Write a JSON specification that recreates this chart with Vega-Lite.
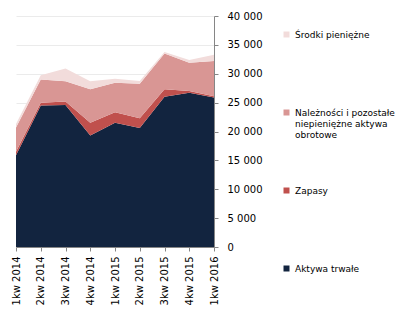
{
  "$schema": "https://vega.github.io/schema/vega-lite/v6.json",
  "width": 198,
  "height": 231,
  "padding": {"left": 16, "top": 16, "right": 184, "bottom": 83},
  "autosize": {"type": "none"},
  "background": "white",
  "config": {
    "view": {"stroke": null},
    "font": "DejaVu Sans"
  },
  "data": {
    "values": [
      {"q": "1kw 2014", "s": "Aktywa trwałe", "o": 1, "v": 15900},
      {"q": "2kw 2014", "s": "Aktywa trwałe", "o": 1, "v": 24500},
      {"q": "3kw 2014", "s": "Aktywa trwałe", "o": 1, "v": 24600},
      {"q": "4kw 2014", "s": "Aktywa trwałe", "o": 1, "v": 19300},
      {"q": "1kw 2015", "s": "Aktywa trwałe", "o": 1, "v": 21500},
      {"q": "2kw 2015", "s": "Aktywa trwałe", "o": 1, "v": 20600},
      {"q": "3kw 2015", "s": "Aktywa trwałe", "o": 1, "v": 26000},
      {"q": "4kw 2015", "s": "Aktywa trwałe", "o": 1, "v": 26700},
      {"q": "1kw 2016", "s": "Aktywa trwałe", "o": 1, "v": 25900},
      {"q": "1kw 2014", "s": "Zapasy", "o": 2, "v": 600},
      {"q": "2kw 2014", "s": "Zapasy", "o": 2, "v": 500},
      {"q": "3kw 2014", "s": "Zapasy", "o": 2, "v": 600},
      {"q": "4kw 2014", "s": "Zapasy", "o": 2, "v": 2200},
      {"q": "1kw 2015", "s": "Zapasy", "o": 2, "v": 1850},
      {"q": "2kw 2015", "s": "Zapasy", "o": 2, "v": 1700},
      {"q": "3kw 2015", "s": "Zapasy", "o": 2, "v": 1300},
      {"q": "4kw 2015", "s": "Zapasy", "o": 2, "v": 300},
      {"q": "1kw 2016", "s": "Zapasy", "o": 2, "v": 200},
      {"q": "1kw 2014", "s": "Należności i pozostałe niepieniężne aktywa obrotowe", "o": 3, "v": 4200},
      {"q": "2kw 2014", "s": "Należności i pozostałe niepieniężne aktywa obrotowe", "o": 3, "v": 4000},
      {"q": "3kw 2014", "s": "Należności i pozostałe niepieniężne aktywa obrotowe", "o": 3, "v": 3500},
      {"q": "4kw 2014", "s": "Należności i pozostałe niepieniężne aktywa obrotowe", "o": 3, "v": 5800},
      {"q": "1kw 2015", "s": "Należności i pozostałe niepieniężne aktywa obrotowe", "o": 3, "v": 5100},
      {"q": "2kw 2015", "s": "Należności i pozostałe niepieniężne aktywa obrotowe", "o": 3, "v": 5950},
      {"q": "3kw 2015", "s": "Należności i pozostałe niepieniężne aktywa obrotowe", "o": 3, "v": 6200},
      {"q": "4kw 2015", "s": "Należności i pozostałe niepieniężne aktywa obrotowe", "o": 3, "v": 4900},
      {"q": "1kw 2016", "s": "Należności i pozostałe niepieniężne aktywa obrotowe", "o": 3, "v": 6100},
      {"q": "1kw 2014", "s": "Środki pieniężne", "o": 4, "v": 600},
      {"q": "2kw 2014", "s": "Środki pieniężne", "o": 4, "v": 750},
      {"q": "3kw 2014", "s": "Środki pieniężne", "o": 4, "v": 2200},
      {"q": "4kw 2014", "s": "Środki pieniężne", "o": 4, "v": 1400},
      {"q": "1kw 2015", "s": "Środki pieniężne", "o": 4, "v": 700},
      {"q": "2kw 2015", "s": "Środki pieniężne", "o": 4, "v": 500},
      {"q": "3kw 2015", "s": "Środki pieniężne", "o": 4, "v": 250},
      {"q": "4kw 2015", "s": "Środki pieniężne", "o": 4, "v": 500},
      {"q": "1kw 2016", "s": "Środki pieniężne", "o": 4, "v": 1100}
    ]
  },
  "mark": {"type": "area", "interpolate": "linear"},
  "encoding": {
    "x": {
      "field": "q",
      "type": "ordinal",
      "sort": null,
      "scale": {"type": "point", "padding": 0},
      "axis": {
        "title": null,
        "labelAngle": -90,
        "labelAlign": "right",
        "labelBaseline": "middle",
        "labelFontSize": 10,
        "labelColor": "black",
        "labelPadding": 5,
        "tickSize": 4,
        "tickColor": "#868686",
        "domainColor": "#868686",
        "grid": false
      }
    },
    "y": {
      "field": "v",
      "type": "quantitative",
      "stack": "zero",
      "scale": {"domain": [0, 40000], "nice": false},
      "axis": {
        "title": null,
        "orient": "right",
        "values": [0, 5000, 10000, 15000, 20000, 25000, 30000, 35000, 40000],
        "labelExpr": "replace(format(datum.value, ','), ',', ' ')",
        "labelFontSize": 10,
        "labelColor": "black",
        "labelPadding": 9,
        "tickSize": 4,
        "tickColor": "#868686",
        "domainColor": "#868686",
        "gridColor": "#ebebeb",
        "gridWidth": 1
      }
    },
    "color": {
      "field": "s",
      "type": "nominal",
      "scale": {
        "domain": ["Środki pieniężne", "Należności i pozostałe niepieniężne aktywa obrotowe", "Zapasy", "Aktywa trwałe"],
        "range": ["#F2DCDB", "#D99694", "#C0504D", "#12243F"]
      },
      "legend": {
        "title": null,
        "orient": "none",
        "legendX": 266,
        "legendY": 14,
        "symbolType": "square",
        "symbolSize": 36,
        "symbolStrokeWidth": 0,
        "labelFontSize": 9,
        "labelColor": "black",
        "labelOffset": 4,
        "labelLimit": 200,
        "columns": 1,
        "gridAlign": "all",
        "rowPadding": 46,
        "labelExpr": "datum.label == 'Należności i pozostałe niepieniężne aktywa obrotowe' ? ['Należności i pozostałe', 'niepieniężne aktywa', 'obrotowe'] : datum.label"
      }
    },
    "order": {"field": "o", "type": "quantitative"}
  }
}
